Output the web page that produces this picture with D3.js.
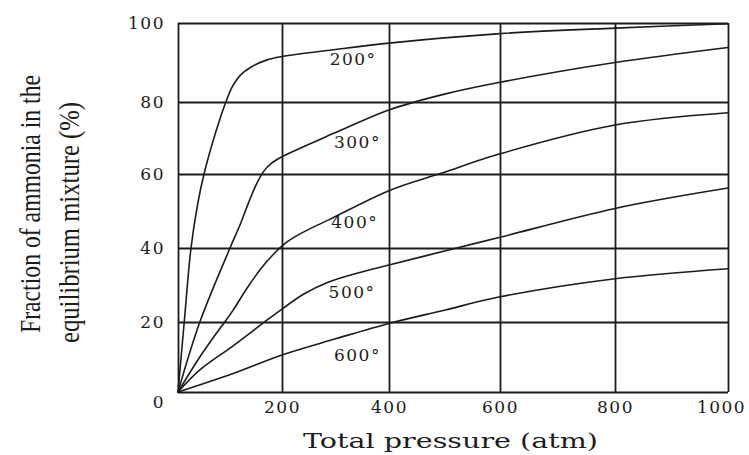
<!DOCTYPE html>
<html>
<head>
<meta charset="utf-8">
<script src="https://cdn.jsdelivr.net/npm/d3@7"></script>
<style>
  body { margin: 0; background: #fff; }
  svg { display: block; }
</style>
</head>
<body>
<svg id="chart"></svg>
<script>
// tick values
const pressureTicks = [0, 200, 400, 600, 800, 1000];
const fractionTicks = [0, 20, 40, 60, 80, 100];

// curve names
const temperatures = ["200°", "300°", "400°", "500°", "600°"];

// [pressure (atm), fraction of ammonia (%)]
const curve200 = [[0, 0], [12, 20], [25, 40], [38, 52], [50, 60], [65, 68], [80, 75], [92, 80], [105, 84], [120, 86.8], [140, 88.8], [170, 90.6], [200, 91.5], [300, 93.3], [400, 94.9], [600, 97.3], [800, 98.7], [1000, 99.8]];
const curve300 = [[0, 0], [42, 20], [100, 40], [120, 46.5], [135, 52], [150, 57], [165, 60.8], [180, 63], [200, 64.8], [300, 71.5], [400, 77.8], [500, 82], [600, 85], [800, 90], [1000, 93.8]];
const curve400 = [[0, 0], [42, 10], [74, 16.8], [90, 20], [106, 23.2], [132, 29], [160, 34.5], [185, 38.5], [210, 41.7], [240, 44.3], [290, 47.8], [400, 55.5], [494, 60.2], [600, 65.6], [800, 73.6], [1000, 77]];
const curve500 = [[0, 0], [42, 6.3], [106, 13.2], [171, 20.5], [200, 23.5], [240, 27.5], [285, 30.7], [340, 33.2], [400, 35.4], [522, 40], [600, 42.9], [800, 50.7], [1000, 56.2]];
const curve600 = [[0, 0], [106, 5.3], [200, 10.6], [300, 15.2], [400, 19.6], [500, 23.2], [600, 26.8], [800, 31.7], [1000, 34.4]];

// where each temperature label sits, in data units
const labelPressure = [333, 341, 336, 331, 341];
const labelFraction = [90.9, 68.9, 47, 28.1, 10.6];

const curves = [curve200, curve300, curve400, curve500, curve600];

function createChart() {
  const width = 749;
  const height = 455;
  const ink = "#1c1c1c";
  const numberFont = "'DejaVu Serif', serif";

  // the printed grid is slightly uneven, so the scales follow each grid line
  const x = d3.scaleLinear(pressureTicks, [178, 282, 389, 500, 615, 728]);
  const y = d3.scaleLinear(fractionTicks, [392, 322, 248, 174, 102, 23]);

  const plotLeft = x(0), plotRight = x(1000);
  const plotTop = y(100), plotBottom = y(0);

  const svg = d3.select("svg#chart")
    .attr("width", width)
    .attr("height", height)
    .attr("viewBox", [0, 0, width, height]);

  // x grid + tick labels
  svg.append("g")
    .attr("transform", `translate(0,${plotBottom})`)
    .call(d3.axisBottom(x)
      .tickValues(pressureTicks)
      .tickSize(-(plotBottom - plotTop))
      .tickPadding(9)
      .tickFormat(d => d === 0 ? "" : d))
    .call(g => g.select(".domain").remove())
    .call(g => g.selectAll(".tick line")
      .attr("stroke", ink)
      .attr("stroke-width", 1.8))
    .call(g => g.selectAll(".tick text")
      .attr("fill", ink)
      .style("font-family", numberFont)
      .style("font-size", "17px")
      .style("letter-spacing", "1.5px"))
    .call(g => g.selectAll(".tick text").filter(d => d === 1000).attr("x", -7));

  // y grid + tick labels
  svg.append("g")
    .attr("transform", `translate(${plotLeft},0)`)
    .call(d3.axisLeft(y)
      .tickValues(fractionTicks)
      .tickSize(-(plotRight - plotLeft))
      .tickPadding(13))
    .call(g => g.select(".domain").remove())
    .call(g => g.selectAll(".tick line")
      .attr("stroke", ink)
      .attr("stroke-width", 1.8))
    .call(g => g.selectAll(".tick text")
      .attr("fill", ink)
      .style("font-family", numberFont)
      .style("font-size", "17px")
      .style("letter-spacing", "1.5px"))
    .call(g => g.selectAll(".tick text").filter(d => d === 0).attr("y", 10));

  const line = d3.line()
    .x(d => x(d[0]))
    .y(d => y(d[1]))
    .curve(d3.curveCatmullRom.alpha(0.5));

  svg.append("g")
    .selectAll("path")
    .data(curves)
    .join("path")
    .attr("fill", "none")
    .attr("stroke", ink)
    .attr("stroke-width", 1.6)
    .attr("stroke-linejoin", "round")
    .attr("stroke-linecap", "round")
    .attr("d", d => line(d));

  // temperature labels
  svg.append("g")
    .selectAll("text")
    .data(temperatures)
    .join("text")
    .attr("x", (d, i) => x(labelPressure[i]))
    .attr("y", (d, i) => y(labelFraction[i]))
    .attr("dy", "0.36em")
    .attr("text-anchor", "middle")
    .attr("fill", ink)
    .style("font-family", numberFont)
    .style("font-size", "17px")
    .style("letter-spacing", "1.5px")
    .text(d => d);

  // x axis title
  svg.append("text")
    .attr("x", 303)
    .attr("y", 448)
    .attr("textLength", 295)
    .attr("lengthAdjust", "spacingAndGlyphs")
    .attr("fill", ink)
    .style("font-family", numberFont)
    .style("font-size", "20px")
    .text("Total pressure (atm)");

  // y axis title, two condensed lines
  svg.append("text")
    .attr("transform", "translate(40,333) rotate(-90)")
    .attr("textLength", 258)
    .attr("lengthAdjust", "spacingAndGlyphs")
    .attr("fill", ink)
    .style("font-family", "'Liberation Serif', serif")
    .style("font-size", "30px")
    .text("Fraction of ammonia in the");

  svg.append("text")
    .attr("transform", "translate(79,343) rotate(-90)")
    .attr("textLength", 241)
    .attr("lengthAdjust", "spacingAndGlyphs")
    .attr("fill", ink)
    .style("font-family", "'Liberation Serif', serif")
    .style("font-size", "30px")
    .text("equilibrium mixture (%)");
}

createChart();
</script>
</body>
</html>
